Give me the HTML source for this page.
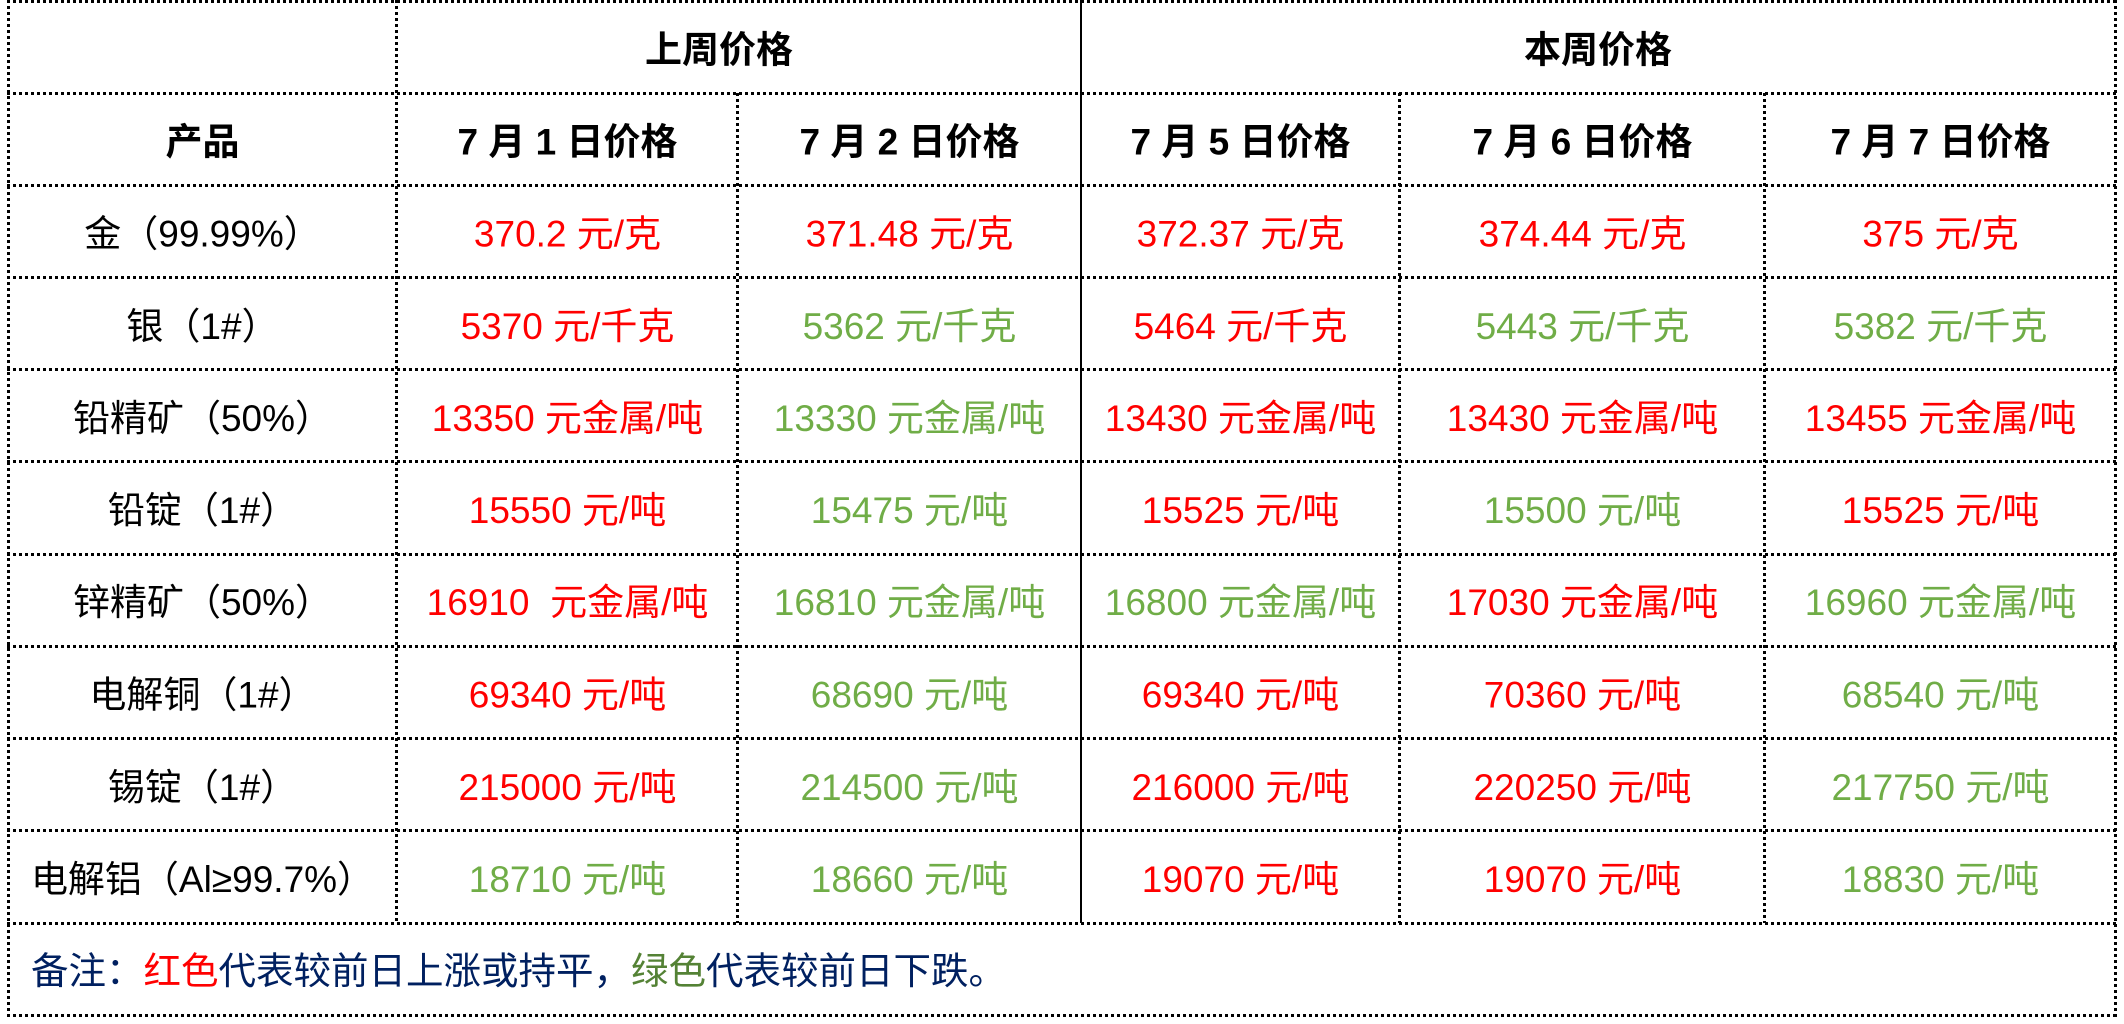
<!DOCTYPE html>
<html>
<head>
<meta charset="utf-8">
<style>
  html,body{margin:0;padding:0;background:#fff;}
  svg{display:block;}
  text{font-family:"Liberation Sans","Noto Sans CJK SC",sans-serif;white-space:pre;}
  .h{font-size:37px;font-weight:bold;fill:#000;}
  .d{font-size:37px;fill:#000;}
  .r{fill:#FF0000;}
  .g{fill:#70AD47;}
  .f{font-size:37.5px;fill:#002060;}
</style>
</head>
<body>
<svg width="2124" height="1024" viewBox="0 0 2124 1024" xmlns="http://www.w3.org/2000/svg">
  <rect x="0" y="0" width="2124" height="1024" fill="#fff"/>
  <g stroke="#000" stroke-width="3" stroke-dasharray="3 3" fill="none" shape-rendering="crispEdges">
    <!-- horizontal lines -->
    <line x1="7" y1="1.5" x2="2117" y2="1.5"/>
    <line x1="7" y1="93.5" x2="2117" y2="93.5"/>
    <line x1="7" y1="185.5" x2="2117" y2="185.5"/>
    <line x1="7" y1="277.5" x2="2117" y2="277.5"/>
    <line x1="7" y1="369.5" x2="2117" y2="369.5"/>
    <line x1="7" y1="461.5" x2="2117" y2="461.5"/>
    <line x1="7" y1="554.5" x2="2117" y2="554.5"/>
    <line x1="7" y1="646.5" x2="2117" y2="646.5"/>
    <line x1="7" y1="738.5" x2="2117" y2="738.5"/>
    <line x1="7" y1="830.5" x2="2117" y2="830.5"/>
    <line x1="7" y1="923.5" x2="2117" y2="923.5"/>
    <line x1="7" y1="1015.5" x2="2117" y2="1015.5"/>
    <!-- vertical lines -->
    <line x1="8.5" y1="0" x2="8.5" y2="1017"/>
    <line x1="2115.5" y1="0" x2="2115.5" y2="1017"/>
    <line x1="396.5" y1="0" x2="396.5" y2="923"/>
    <line x1="737.5" y1="93" x2="737.5" y2="923"/>
    <line x1="1399.5" y1="93" x2="1399.5" y2="923"/>
    <line x1="1764.5" y1="93" x2="1764.5" y2="923"/>
  </g>
  <line x1="1081" y1="0" x2="1081" y2="923" stroke="#000" stroke-width="2" shape-rendering="crispEdges"/>

  <!-- header row 0 -->
  <text class="h" x="719" y="62.5" text-anchor="middle">上周价格</text>
  <text class="h" x="1598" y="62.5" text-anchor="middle">本周价格</text>

  <!-- header row 1 -->
  <g text-anchor="middle">
    <text class="h" x="202.5" y="154.5">产品</text>
    <text class="h" x="567.5" y="154.5">7 月 1 日价格</text>
    <text class="h" x="909.5" y="154.5">7 月 2 日价格</text>
    <text class="h" x="1240.5" y="154.5">7 月 5 日价格</text>
    <text class="h" x="1582.5" y="154.5">7 月 6 日价格</text>
    <text class="h" x="1940.5" y="154.5">7 月 7 日价格</text>
  </g>

  <g text-anchor="middle">
    <text class="d" x="202.5" y="246.5">金（99.99%）</text>
    <text class="d r" x="567.5" y="246.5">370.2 元/克</text>
    <text class="d r" x="909.5" y="246.5">371.48 元/克</text>
    <text class="d r" x="1240.5" y="246.5">372.37 元/克</text>
    <text class="d r" x="1582.5" y="246.5">374.44 元/克</text>
    <text class="d r" x="1940.5" y="246.5">375 元/克</text>

    <text class="d" x="202.5" y="339">银（1#）</text>
    <text class="d r" x="567.5" y="339">5370 元/千克</text>
    <text class="d g" x="909.5" y="339">5362 元/千克</text>
    <text class="d r" x="1240.5" y="339">5464 元/千克</text>
    <text class="d g" x="1582.5" y="339">5443 元/千克</text>
    <text class="d g" x="1940.5" y="339">5382 元/千克</text>

    <text class="d" x="202.5" y="431">铅精矿（50%）</text>
    <text class="d r" x="567.5" y="431">13350 元金属/吨</text>
    <text class="d g" x="909.5" y="431">13330 元金属/吨</text>
    <text class="d r" x="1240.5" y="431">13430 元金属/吨</text>
    <text class="d r" x="1582.5" y="431">13430 元金属/吨</text>
    <text class="d r" x="1940.5" y="431">13455 元金属/吨</text>

    <text class="d" x="202.5" y="523">铅锭（1#）</text>
    <text class="d r" x="567.5" y="523">15550 元/吨</text>
    <text class="d g" x="909.5" y="523">15475 元/吨</text>
    <text class="d r" x="1240.5" y="523">15525 元/吨</text>
    <text class="d g" x="1582.5" y="523">15500 元/吨</text>
    <text class="d r" x="1940.5" y="523">15525 元/吨</text>

    <text class="d" x="202.5" y="615">锌精矿（50%）</text>
    <text class="d r" x="567.5" y="615">16910  元金属/吨</text>
    <text class="d g" x="909.5" y="615">16810 元金属/吨</text>
    <text class="d g" x="1240.5" y="615">16800 元金属/吨</text>
    <text class="d r" x="1582.5" y="615">17030 元金属/吨</text>
    <text class="d g" x="1940.5" y="615">16960 元金属/吨</text>

    <text class="d" x="202.5" y="707.5">电解铜（1#）</text>
    <text class="d r" x="567.5" y="707.5">69340 元/吨</text>
    <text class="d g" x="909.5" y="707.5">68690 元/吨</text>
    <text class="d r" x="1240.5" y="707.5">69340 元/吨</text>
    <text class="d r" x="1582.5" y="707.5">70360 元/吨</text>
    <text class="d g" x="1940.5" y="707.5">68540 元/吨</text>

    <text class="d" x="202.5" y="800">锡锭（1#）</text>
    <text class="d r" x="567.5" y="800">215000 元/吨</text>
    <text class="d g" x="909.5" y="800">214500 元/吨</text>
    <text class="d r" x="1240.5" y="800">216000 元/吨</text>
    <text class="d r" x="1582.5" y="800">220250 元/吨</text>
    <text class="d g" x="1940.5" y="800">217750 元/吨</text>

    <text class="d" x="202.5" y="892">电解铝（Al≥99.7%）</text>
    <text class="d g" x="567.5" y="892">18710 元/吨</text>
    <text class="d g" x="909.5" y="892">18660 元/吨</text>
    <text class="d r" x="1240.5" y="892">19070 元/吨</text>
    <text class="d r" x="1582.5" y="892">19070 元/吨</text>
    <text class="d g" x="1940.5" y="892">18830 元/吨</text>
  </g>

  <!-- footer -->
  <text class="f" x="31" y="984">备注：<tspan fill="#FF0000">红色</tspan>代表较前日上涨或持平，<tspan fill="#548235">绿色</tspan>代表较前日下跌。</text>
</svg>
</body>
</html>
